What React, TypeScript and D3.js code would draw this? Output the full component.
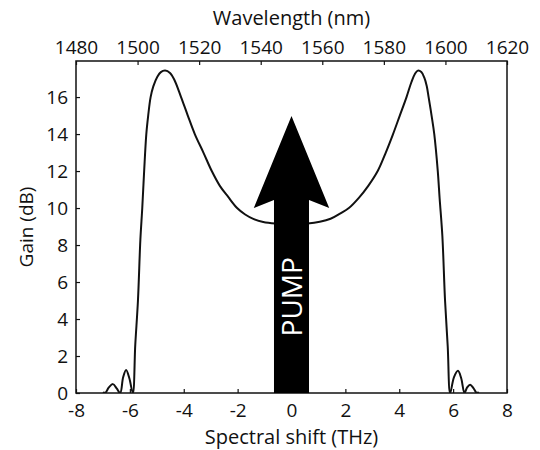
import React, { useEffect, useRef } from "react";
import * as d3 from "d3";

// gain spectrum (THz, dB)
const shift = [
  -6.99, -6.92, -6.78, -6.63, -6.49, -6.36, -6.25, -6.14, -6.02, -5.89,
  -5.8, -5.7, -5.61, -5.54, -5.47, -5.39, -5.32, -5.23, -5.13, -4.98,
  -4.85, -4.69, -4.51, -4.35, -4.1, -3.85, -3.59, -3.27, -2.96, -2.66,
  -2.35, -2.02, -1.72, -1.4, -1.05, -0.6, 0, 0.6, 1.05, 1.45, 1.8, 2.13,
  2.5, 2.85, 3.2, 3.5, 3.77, 4.02, 4.27, 4.45, 4.58, 4.69, 4.82, 4.93,
  5.02, 5.09, 5.2, 5.3, 5.43, 5.5, 5.6, 5.7, 5.8, 5.89, 6.03, 6.18,
  6.3, 6.42, 6.52, 6.63, 6.76, 6.88, 6.95,
];
const gain = [
  0.05, 0.0, 0.3, 0.48, 0.25, 0.0, 0.85, 1.25, 0.8, 0.0,
  2.6, 5.0, 8.3, 10.0, 12.0, 14.0, 15.0, 16.0, 16.58, 17.1,
  17.35, 17.43, 17.3, 16.94, 16.0, 15.0, 14.0, 13.0, 12.0, 11.2,
  10.6, 10.0, 9.65, 9.4, 9.25, 9.17, 9.14, 9.17, 9.26, 9.42, 9.7, 10.0,
  10.55, 11.2, 12.0, 13.0, 14.0, 15.0, 16.0, 16.8, 17.25, 17.43, 17.35, 17.05,
  16.6, 16.0, 15.0, 14.0, 12.0, 10.5, 8.5, 5.0, 2.5, 0.0, 0.85, 1.2,
  0.8, 0.0, 0.3, 0.45, 0.25, 0.0, 0.05,
];

const shiftTicks = [-8, -6, -4, -2, 0, 2, 4, 6, 8];
const gainTicks = [0, 2, 4, 6, 8, 10, 12, 14, 16];
const wavelengthTicks = [1480, 1500, 1520, 1540, 1560, 1580, 1600, 1620];

// pump arrow outline in data units: [shift, gain]
const pumpArrow = [
  [-0.65, 0],
  [-0.65, 10.43],
  [-1.4, 10.0],
  [0, 14.97],
  [1.4, 10.0],
  [0.65, 10.43],
  [0.65, 0],
];

const App = () => {
  const ref = useRef(null);

  useEffect(() => {
    const width = 540;
    const height = 450;
    const left = 76;
    const right = 507;
    const top = 61;
    const bottom = 393;
    const font = "'Open Sans', sans-serif";

    const x = d3.scaleLinear().domain([-8, 8]).range([left, right]);
    const xTop = d3.scaleLinear().domain([1480, 1620]).range([left, right]);
    const y = d3.scaleLinear().domain([0, 17.95]).range([bottom, top]);

    const svg = d3
      .select(ref.current)
      .selectAll("svg")
      .data([null])
      .join("svg")
      .attr("width", width)
      .attr("height", height)
      .style("position", "absolute")
      .style("left", 0)
      .style("top", 0)
      .style("background", "#fff");
    svg.selectAll("*").remove();

    const styleAxis = (g) => {
      g.select(".domain").remove();
      g.selectAll("line").attr("stroke", "#111").attr("stroke-width", 1.2);
      g.selectAll("text")
        .attr("fill", "#111")
        .style("font-family", font)
        .style("font-size", "19px");
    };

    svg
      .append("g")
      .attr("transform", `translate(0,${bottom})`)
      .call(
        d3
          .axisBottom(x)
          .tickValues(shiftTicks)
          .tickFormat((d) => String(d))
          .tickSizeInner(-4)
          .tickSizeOuter(0)
          .tickPadding(11)
      )
      .call(styleAxis);

    svg
      .append("g")
      .attr("transform", `translate(0,${top})`)
      .call(
        d3
          .axisTop(xTop)
          .tickValues(wavelengthTicks)
          .tickFormat((d) => String(d))
          .tickSizeInner(-4)
          .tickSizeOuter(0)
          .tickPadding(7)
      )
      .call(styleAxis);

    svg
      .append("g")
      .attr("transform", `translate(${left},0)`)
      .call(
        d3
          .axisLeft(y)
          .tickValues(gainTicks)
          .tickFormat((d) => String(d))
          .tickSizeInner(-4)
          .tickSizeOuter(0)
          .tickPadding(8)
      )
      .call(styleAxis);

    // clip so the spline never dips under the axis
    svg
      .append("clipPath")
      .attr("id", "plot-clip")
      .append("rect")
      .attr("x", left)
      .attr("y", top)
      .attr("width", right - left)
      .attr("height", bottom - top);

    const line = d3
      .line()
      .x((d) => x(d[0]))
      .y((d) => y(d[1]))
      .curve(d3.curveCatmullRom.alpha(0.5));

    svg
      .append("path")
      .datum(shift.map((s, i) => [s, gain[i]]))
      .attr("d", line)
      .attr("clip-path", "url(#plot-clip)")
      .attr("fill", "none")
      .attr("stroke", "#111")
      .attr("stroke-width", 2);

    // frame
    svg
      .append("rect")
      .attr("x", left)
      .attr("y", top)
      .attr("width", right - left)
      .attr("height", bottom - top)
      .attr("fill", "none")
      .attr("stroke", "#111")
      .attr("stroke-width", 1.5);

    svg
      .append("path")
      .attr("d", d3.line().x((d) => x(d[0])).y((d) => y(d[1]))(pumpArrow) + "Z")
      .attr("fill", "#000");

    svg
      .append("text")
      .attr("transform", `translate(${x(0) + 10},${y(5.2)}) rotate(-90)`)
      .attr("text-anchor", "middle")
      .attr("fill", "#fff")
      .style("font-family", font)
      .style("font-size", "28px")
      .text("PUMP");

    svg
      .append("text")
      .attr("x", (left + right) / 2)
      .attr("y", 25)
      .attr("text-anchor", "middle")
      .attr("fill", "#111")
      .style("font-family", font)
      .style("font-size", "20px")
      .text("Wavelength (nm)");

    svg
      .append("text")
      .attr("x", (left + right) / 2)
      .attr("y", 444)
      .attr("text-anchor", "middle")
      .attr("fill", "#111")
      .style("font-family", font)
      .style("font-size", "20px")
      .text("Spectral shift (THz)");

    svg
      .append("text")
      .attr("transform", `translate(33,${(top + bottom) / 2}) rotate(-90)`)
      .attr("text-anchor", "middle")
      .attr("fill", "#111")
      .style("font-family", font)
      .style("font-size", "19px")
      .text("Gain (dB)");
  }, []);

  return <div ref={ref}></div>;
};

export default App;
